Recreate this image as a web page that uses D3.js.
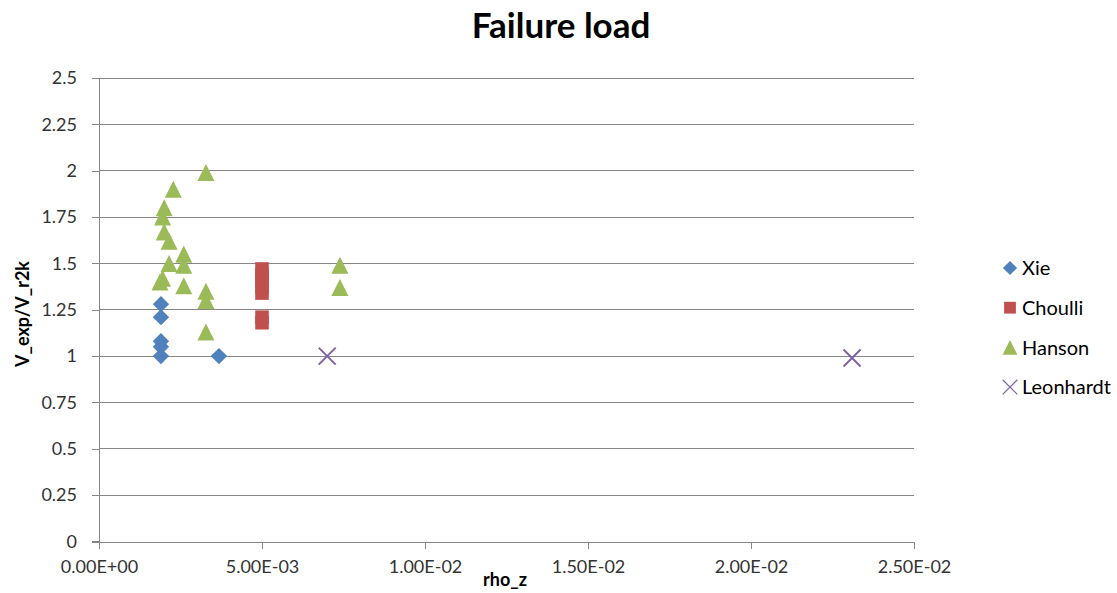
<!DOCTYPE html>
<html>
<head>
<meta charset="utf-8">
<script src="https://cdn.jsdelivr.net/npm/d3@7"></script>
<style>
  html, body { margin: 0; padding: 0; background: #fff; }
  svg { display: block; font-family: Lato, "Open Sans", sans-serif; }
</style>
</head>
<body>
<svg id="chart" width="1117" height="593"></svg>
<script>
// Failure load ratio against stirrup ratio, one series per test programme
const xieRho      = [1.9e-3, 1.9e-3, 1.9e-3, 1.9e-3, 1.9e-3, 3.68e-3];
const xieRatio    = [1.28, 1.21, 1.08, 1.05, 1.00, 1.00];

const choulliRho   = [5.0e-3, 5.0e-3, 5.0e-3, 5.0e-3, 5.0e-3, 5.0e-3, 5.0e-3];
const choulliRatio = [1.47, 1.44, 1.41, 1.37, 1.34, 1.21, 1.18];

const hansonRho   = [3.28e-3, 2.28e-3, 2.0e-3, 1.95e-3, 2.0e-3, 2.15e-3, 2.6e-3, 2.6e-3,
                     2.15e-3, 1.95e-3, 1.87e-3, 2.6e-3, 3.28e-3, 3.28e-3, 3.28e-3, 7.39e-3, 7.39e-3];
const hansonRatio = [1.99, 1.90, 1.80, 1.75, 1.67, 1.62, 1.55, 1.49,
                     1.50, 1.42, 1.40, 1.38, 1.35, 1.30, 1.13, 1.49, 1.37];

const leonRho   = [7.0e-3, 2.31e-2];
const leonRatio = [1.00, 0.99];

const seriesNames  = ["Xie", "Choulli", "Hanson", "Leonhardt"];
const seriesColors = ["#4F81BD", "#C0504D", "#9BBB59", "#8064A2"];
const seriesShapes = ["diamond", "square", "triangle", "cross"];

const xTicks = [0, 5e-3, 1e-2, 1.5e-2, 2e-2, 2.5e-2];
const yTicks = [0, 0.25, 0.5, 0.75, 1, 1.25, 1.5, 1.75, 2, 2.25, 2.5];

const chartTitle = "Failure load";
const xTitle = "rho_z";
const yTitle = "V_exp/V_r2k";

const series = seriesNames.map((name, i) => {
  const rho = [xieRho, choulliRho, hansonRho, leonRho][i];
  const ratio = [xieRatio, choulliRatio, hansonRatio, leonRatio][i];
  return { name, color: seriesColors[i], shape: seriesShapes[i],
           points: rho.map((r, j) => ({ x: r, y: ratio[j] })) };
});

const svg = d3.select("#chart");
const plot = { left: 99, right: 914, top: 78, bottom: 541.5 };

const x = d3.scaleLinear().domain([0, 2.5e-2]).range([plot.left, plot.right]);
const y = d3.scaleLinear().domain([0, 2.5]).range([plot.bottom, plot.top]);

const gridColor = "#868686";
const textColor = "#333333";

// horizontal gridlines
svg.append("g").selectAll("line").data(yTicks.filter(t => t > 0)).join("line")
  .attr("x1", plot.left).attr("x2", plot.right)
  .attr("y1", d => y(d)).attr("y2", d => y(d))
  .attr("stroke", gridColor).attr("stroke-width", 1)
  .attr("shape-rendering", "crispEdges");

// y axis
const yAxis = svg.append("g").attr("transform", `translate(${plot.left},0)`)
  .call(d3.axisLeft(y).tickValues(yTicks).tickFormat(d => String(d)).tickSize(7).tickPadding(15));
// x axis, labels in spreadsheet scientific notation
const xAxis = svg.append("g").attr("transform", `translate(0,${plot.bottom})`)
  .call(d3.axisBottom(x).tickValues(xTicks).tickSize(7).tickPadding(12)
    .tickFormat(d => {
      const [m, e] = d3.format(".2e")(d).split("e");
      const n = +e;
      return m + "E" + (n < 0 ? "-" : "+") + String(Math.abs(n)).padStart(2, "0");
    }));

[yAxis, xAxis].forEach(g => {
  g.select(".domain").attr("stroke", gridColor).attr("shape-rendering", "crispEdges");
  g.selectAll(".tick line").attr("stroke", gridColor).attr("shape-rendering", "crispEdges");
  g.selectAll(".tick text").attr("fill", textColor)
    .style("font-family", "Lato, 'Open Sans', sans-serif").style("font-size", "18px");
});
yAxis.select(".domain").attr("d", `M-7,${plot.top}H0V${plot.bottom}H-7`);

// upright triangle with equal width and height
const triangleUp = {
  draw(ctx, size) {
    const h = Math.sqrt(size);
    ctx.moveTo(0, -h / 2);
    ctx.lineTo(h / 2, h / 2);
    ctx.lineTo(-h / 2, h / 2);
    ctx.closePath();
  }
};

function symbolPath(shape, scale) {
  const types = { diamond: d3.symbolDiamond2, square: d3.symbolSquare2, triangle: triangleUp, cross: d3.symbolX };
  const sizes = { diamond: 170, square: 235, triangle: 290, cross: 190 };
  return d3.symbol().type(types[shape]).size(sizes[shape] * scale)();
}

function drawMarker(sel, s, scale, crossWidth) {
  const path = symbolPath(s.shape, scale);
  if (s.shape === "cross") {
    sel.attr("d", path).attr("fill", "none").attr("stroke", s.color).attr("stroke-width", crossWidth);
  } else {
    sel.attr("d", path).attr("fill", s.color);
  }
}

series.forEach(s => {
  svg.append("g").selectAll("path").data(s.points).join("path")
    .attr("transform", d => `translate(${x(d.x)},${y(d.y)})`)
    .call(sel => drawMarker(sel, s, 1, 2));
});

// title
svg.append("text").attr("x", 561).attr("y", 38).attr("text-anchor", "middle")
  .style("font-size", "35px").style("font-weight", "bold").attr("fill", "#000")
  .text(chartTitle);

// axis titles
svg.append("text").attr("x", 505).attr("y", 586).attr("text-anchor", "middle")
  .style("font-size", "18px").style("font-weight", "bold").attr("fill", "#000")
  .text(xTitle);
svg.append("text").attr("transform", "translate(29,314) rotate(-90)").attr("text-anchor", "middle")
  .style("font-size", "18px").style("font-weight", "bold").attr("fill", "#000")
  .text(yTitle);

// legend
const legend = svg.append("g").selectAll("g").data(series).join("g")
  .attr("transform", (d, i) => `translate(1010,${268 + i * 39.7})`);
legend.append("path").each(function (d) {
  drawMarker(d3.select(this), d, 0.75, 1.2);
});
legend.append("text").attr("x", 12).attr("dy", "0.36em")
  .style("font-size", "20px").attr("fill", "#000").text(d => d.name);
</script>
</body>
</html>
